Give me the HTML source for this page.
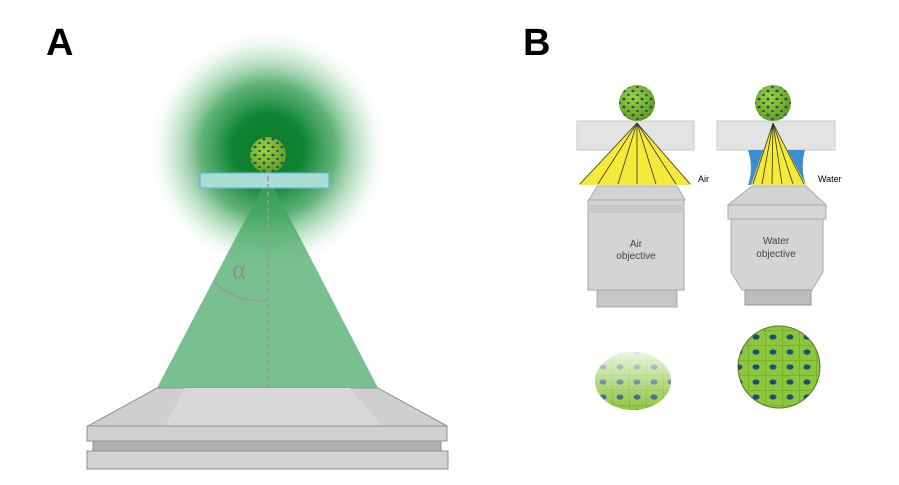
<!DOCTYPE html>
<html><head><style>body{margin:0;background:#fff}svg{display:block}</style></head><body>
<svg width="899" height="485" viewBox="0 0 899 485" xmlns="http://www.w3.org/2000/svg">
<defs>
<radialGradient id="glow" cx="268" cy="150" r="122" gradientUnits="userSpaceOnUse">
<stop offset="0" stop-color="#0b7a2c"/><stop offset="0.3" stop-color="#108533"/><stop offset="0.55" stop-color="#3a9f58" stop-opacity="0.8"/><stop offset="0.8" stop-color="#8fcfa0" stop-opacity="0.35"/><stop offset="1" stop-color="#fff" stop-opacity="0"/>
</radialGradient>
<radialGradient id="cell" cx="0.4" cy="0.35" r="0.7"><stop offset="0" stop-color="#9ed13a"/><stop offset="1" stop-color="#5f9a1e"/></radialGradient>
<linearGradient id="fade" x1="0" y1="0" x2="0" y2="1"><stop offset="0" stop-color="#fff" stop-opacity="0.95"/><stop offset="0.6" stop-color="#fff" stop-opacity="0.35"/><stop offset="1" stop-color="#fff" stop-opacity="0"/></linearGradient>
<pattern id="spots" width="9" height="8" patternUnits="userSpaceOnUse"><ellipse cx="3" cy="3" rx="1.6" ry="1.3" fill="#1a4f7a"/><ellipse cx="7.5" cy="7" rx="1.3" ry="1.1" fill="#1a4f7a"/></pattern>
<pattern id="bigspots" width="17" height="15" patternUnits="userSpaceOnUse"><path d="M0,0 L17,0 M0,0 L0,15" stroke="#6a8a28" stroke-width="0.8" fill="none"/><ellipse cx="8" cy="7" rx="3.5" ry="2.6" fill="#1a4f7a"/></pattern>
</defs>
<text x="46" y="55" font-family="Liberation Sans, sans-serif" font-weight="bold" font-size="38">A</text>
<text x="523" y="55" font-family="Liberation Sans, sans-serif" font-weight="bold" font-size="38">B</text>
<!-- panel A -->
<circle cx="268" cy="150" r="122" fill="url(#glow)"/>
<polygon points="268,176 157,388 378,388" fill="#3fa560" opacity="0.7"/>
<circle cx="268" cy="155" r="18" fill="url(#cell)"/>
<circle cx="268" cy="155" r="18" fill="url(#spots)"/>
<rect x="200" y="173" width="129" height="15" fill="#a9ddd5" stroke="#6ab3d8" stroke-width="1.2"/>
<line x1="268" y1="176" x2="268" y2="388" stroke="#999" stroke-width="1.5" stroke-dasharray="5,3"/>
<path d="M214,281 A60,60 0 0 0 268,300" fill="none" stroke="#999" stroke-width="1.5"/>
<text x="232" y="278" font-family="Liberation Serif, serif" font-size="26" fill="#8c8c8c">α</text>
<polygon points="157,388 378,388 447,426 88,426" fill="#cfcfcf" stroke="#909090"/>
<polygon points="185,388 350,388 382,426 165,426" fill="#d8d8d8"/>
<rect x="87" y="426" width="360" height="15" fill="#d0d0d0" stroke="#909090"/>
<rect x="93" y="441" width="348" height="10" fill="#b0b0b0" stroke="#909090"/>
<rect x="87" y="451" width="361" height="18" fill="#d2d2d2" stroke="#909090"/>
<!-- panel B air -->
<rect x="577" y="121" width="117" height="29" fill="#e3e3e3" stroke="#c8c8c8"/>
<circle cx="637" cy="103" r="18" fill="url(#cell)"/><circle cx="637" cy="103" r="18" fill="url(#spots)"/>
<polygon points="637,123 578,185 692,185" fill="#f5ea3a"/>
<g stroke="#333" stroke-width="0.8"><line x1="637" y1="123" x2="580" y2="184"/><line x1="637" y1="123" x2="598" y2="184"/><line x1="637" y1="123" x2="618" y2="184"/><line x1="637" y1="123" x2="637" y2="184"/><line x1="637" y1="123" x2="656" y2="184"/><line x1="637" y1="123" x2="676" y2="184"/><line x1="637" y1="123" x2="690" y2="184"/></g>
<text x="698" y="182" font-family="Liberation Sans, sans-serif" font-size="9">Air</text>
<polygon points="597,186 677,186 685,200 589,200" fill="#d3d3d3" stroke="#aaa"/>
<rect x="588" y="200" width="96" height="90" fill="#d4d4d4" stroke="#aaa"/>
<rect x="588" y="205" width="96" height="8" fill="#c8c8c8"/>
<rect x="597" y="290" width="80" height="17" fill="#c6c6c6" stroke="#aaa"/>
<text x="636" y="247" text-anchor="middle" font-family="Liberation Sans, sans-serif" font-size="10" fill="#444">Air</text>
<text x="636" y="259" text-anchor="middle" font-family="Liberation Sans, sans-serif" font-size="10" fill="#444">objective</text>
<!-- panel B water -->
<rect x="717" y="121" width="118" height="29" fill="#e3e3e3" stroke="#c8c8c8"/>
<path d="M748,150 L805,150 Q800,168 806,185 L748,185 Q754,168 748,150Z" fill="#3b8fd0"/>
<circle cx="773" cy="103" r="18" fill="url(#cell)"/><circle cx="773" cy="103" r="18" fill="url(#spots)"/>
<polygon points="773,123 751,185 806,185" fill="#f5ea3a"/>
<g stroke="#333" stroke-width="0.8"><line x1="773" y1="123" x2="753" y2="184"/><line x1="773" y1="123" x2="762" y2="184"/><line x1="773" y1="123" x2="772" y2="184"/><line x1="773" y1="123" x2="782" y2="184"/><line x1="773" y1="123" x2="793" y2="184"/><line x1="773" y1="123" x2="804" y2="184"/></g>
<text x="818" y="182" font-family="Liberation Sans, sans-serif" font-size="9">Water</text>
<polygon points="752,186 806,186 826,205 728,205" fill="#d3d3d3" stroke="#aaa"/>
<rect x="728" y="205" width="98" height="14" fill="#d6d6d6" stroke="#aaa"/>
<polygon points="731,219 823,219 823,272 812,290 742,290 731,272" fill="#d4d4d4" stroke="#aaa"/>
<rect x="745" y="290" width="66" height="15" fill="#bdbdbd" stroke="#999"/>
<text x="776" y="244" text-anchor="middle" font-family="Liberation Sans, sans-serif" font-size="10" fill="#444">Water</text>
<text x="776" y="257" text-anchor="middle" font-family="Liberation Sans, sans-serif" font-size="10" fill="#444">objective</text>
<!-- bottom spheroids -->
<ellipse cx="633" cy="381" rx="38" ry="29" fill="#8cc63a"/>
<ellipse cx="633" cy="381" rx="38" ry="29" fill="url(#bigspots)"/>
<ellipse cx="633" cy="378" rx="40" ry="33" fill="url(#fade)"/>
<circle cx="779" cy="367" r="41" fill="#8cc63a" stroke="#5a7a20"/>
<circle cx="779" cy="367" r="41" fill="url(#bigspots)"/>
</svg>
</body></html>
